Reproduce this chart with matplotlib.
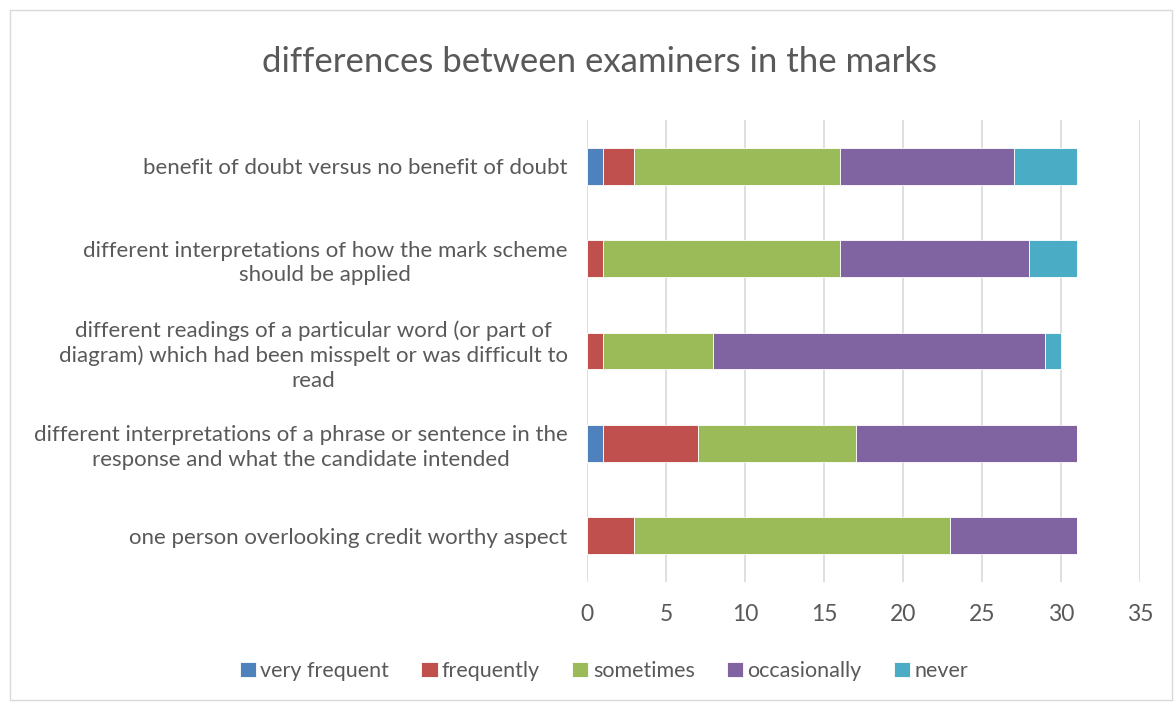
import numpy as np
import matplotlib
matplotlib.use("Agg")
import matplotlib.pyplot as plt
from matplotlib.patches import Rectangle

plt.rcParams['font.family'] = ['Lato', 'DejaVu Sans']

# top to bottom, as shown
categories = [
    "benefit of doubt versus no benefit of doubt",
    "different interpretations of how the mark scheme\nshould be applied",
    "different readings of a particular word (or part of\ndiagram) which had been misspelt or was difficult to\nread",
    "different interpretations of a phrase or sentence in the\nresponse and what the candidate intended",
    "one person overlooking credit worthy aspect",
]
series_names = ["very frequent", "frequently", "sometimes", "occasionally", "never"]
very_frequent = [1, 0, 0, 1, 0]
frequently = [2, 1, 1, 6, 3]
sometimes = [13, 15, 7, 10, 20]
occasionally = [11, 12, 21, 14, 8]
never = [4, 3, 1, 0, 0]
colors = ["#4F81BD", "#C0504D", "#9BBB59", "#8064A2", "#4BACC6"]
xticks = [0, 5, 10, 15, 20, 25, 30, 35]

txt = "#595959"
fig = plt.figure(figsize=(11.76, 7.07), dpi=100)
fig.patches.append(Rectangle((10/1176, 1 - 700/707), 1162/1176, 690/707,
                             transform=fig.transFigure, fill=False,
                             edgecolor="#D9D9D9", linewidth=1))
ax = fig.add_axes([587/1176, 1 - 582/707, 553/1176, 462/707])

y = np.arange(len(categories))[::-1]
left = np.zeros(len(categories))
for name, vals, c in zip(series_names,
                         [very_frequent, frequently, sometimes, occasionally, never],
                         colors):
    vals = np.array(vals, dtype=float)
    ax.barh(y, vals, left=left, height=0.4, color=c, edgecolor="white",
            linewidth=0.6, label=name, zorder=3)
    left += vals

ax.set_xlim(0, 35)
ax.set_ylim(-0.5, len(categories) - 0.5)
ax.set_xticks(xticks)
ax.set_yticks(y)
ax.set_yticklabels(categories, multialignment="center", fontsize=16, color=txt,
                   linespacing=1.3)
ax.tick_params(axis="x", length=0, pad=16, labelsize=16.5, labelcolor=txt)
ax.tick_params(axis="y", length=0, pad=14)
ax.grid(axis="x", color="#D9D9D9", linewidth=1.2, zorder=0)
for s in ax.spines.values():
    s.set_visible(False)

fig.text(599/1176, 1 - 62/707, "differences between examiners in the marks",
         ha="center", va="center", fontsize=25, color=txt)
fig.legend(loc="center", bbox_to_anchor=(604/1176, 1 - 671/707), ncol=5,
           frameon=False, fontsize=15.5, labelcolor=txt, handlelength=0.75,
           handleheight=0.75, handletextpad=0.2, columnspacing=1.5)

fig.savefig("out.png", dpi=100)
